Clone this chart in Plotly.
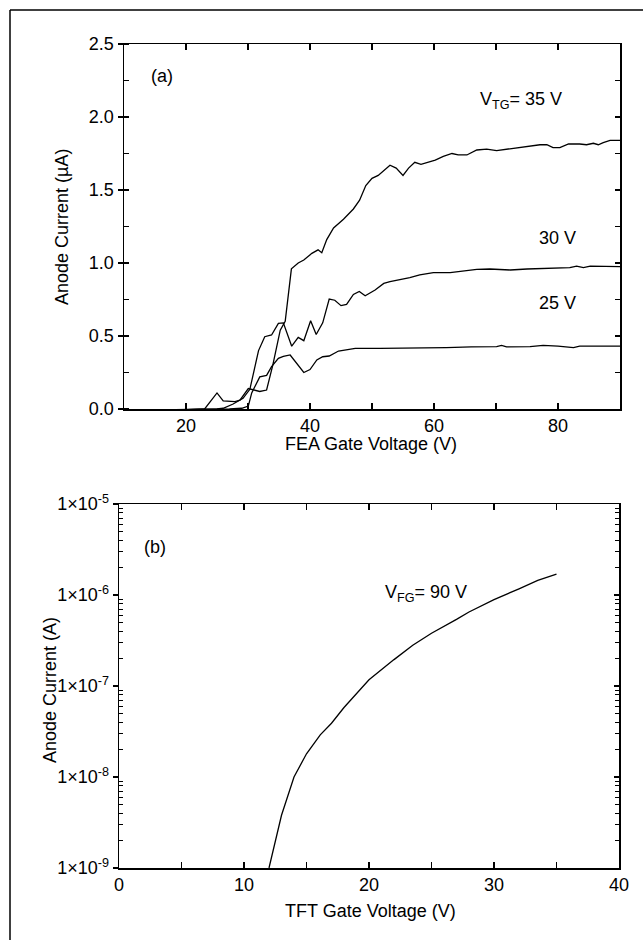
import plotly.graph_objects as go

# ---------------- data: panel (a) ----------------
fea_v_35 = [10, 15, 20, 23, 25, 26, 27.9, 28.7, 30.05, 31.9, 33, 34, 35.2, 36, 37, 38.1, 39,
            40.3, 41.3, 41.9, 42.7, 43.8, 45.4, 47, 48, 49, 50, 51, 52.9, 53.9, 55, 55.9,
            56.9, 57.9, 59, 60.2, 61.5, 62.9, 63.9, 65.3, 66.9, 68.5, 70.1, 71.7, 73.3, 75,
            77.1, 78.2, 79.2, 80.3, 81.7, 83.5, 84.6, 85.7, 86.5, 87.3, 88.4, 90]
cur_35 = [-0.01, -0.01, -0.005, 0.0, 0.11, 0.055, 0.05, 0.06, 0.14, 0.12, 0.13, 0.30, 0.54,
          0.60, 0.96, 1.00, 1.02, 1.066, 1.09, 1.07, 1.16, 1.24, 1.30, 1.37, 1.43, 1.53,
          1.58, 1.60, 1.67, 1.65, 1.60, 1.65, 1.69, 1.676, 1.69, 1.705, 1.73, 1.75, 1.74,
          1.74, 1.774, 1.78, 1.77, 1.78, 1.79, 1.80, 1.81, 1.81, 1.79, 1.79, 1.815, 1.815,
          1.81, 1.82, 1.81, 1.825, 1.84, 1.84]

fea_v_30 = [10, 20, 25, 26, 27.6, 29.2, 30.3, 31.7, 32.7, 33.8, 34.9, 35.7, 37.05, 38.1, 39,
            40.1, 41, 42.05, 43.1, 44, 45, 45.9, 47, 47.95, 48.9, 50.5, 51.9, 52.9, 54.5,
            56.1, 57.7, 59.9, 62.6, 64.7, 66.9, 69, 72.3, 75, 78.2, 81.9, 83, 84.1, 85.2,
            87.3, 90]
cur_30 = [-0.01, -0.005, 0.0, 0.005, 0.034, 0.073, 0.135, 0.40, 0.495, 0.507, 0.587, 0.59,
          0.43, 0.49, 0.468, 0.605, 0.51, 0.59, 0.753, 0.745, 0.708, 0.717, 0.785, 0.805,
          0.776, 0.815, 0.86, 0.872, 0.884, 0.90, 0.918, 0.934, 0.934, 0.947, 0.956, 0.959,
          0.952, 0.959, 0.963, 0.968, 0.979, 0.968, 0.979, 0.975, 0.975]

fea_v_25 = [10, 20, 27, 29, 30.05, 30.6, 31.9, 33, 33.8, 34.9, 35.7, 36.8, 37.95, 39, 40,
            41.1, 42.05, 43.1, 44.6, 45.9, 47.3, 51.3, 54, 56.1, 57.2, 59.4, 62, 66, 70.1,
            70.9, 71.7, 75.5, 77.6, 80, 82.5, 83.5, 90]
cur_25 = [-0.01, -0.005, 0.0, 0.005, 0.02, 0.11, 0.22, 0.23, 0.29, 0.347, 0.36, 0.37, 0.31,
          0.25, 0.27, 0.336, 0.358, 0.363, 0.397, 0.408, 0.415, 0.415, 0.415, 0.42, 0.415,
          0.415, 0.42, 0.425, 0.427, 0.436, 0.425, 0.427, 0.436, 0.43, 0.42, 0.43, 0.43]

# ---------------- data: panel (b) ----------------
tft_v = [12, 13, 14, 15, 16.1, 17, 18, 19, 20, 22, 23.5, 25, 26, 27, 28, 30, 32, 33.5, 35]
cur_b = [1.0e-9, 3.8e-9, 1.0e-8, 1.8e-8, 2.9e-8, 3.9e-8, 5.8e-8, 8.3e-8, 1.17e-7, 1.95e-7,
         2.8e-7, 3.8e-7, 4.5e-7, 5.4e-7, 6.5e-7, 8.9e-7, 1.17e-6, 1.45e-6, 1.7e-6]

log_tickvals = [1e-9, 1e-8, 1e-7, 1e-6, 1e-5]
log_ticktext = ["1×10<sup>-9</sup>", "1×10<sup>-8</sup>", "1×10<sup>-7</sup>",
                "1×10<sup>-6</sup>", "1×10<sup>-5</sup>"]

# ---------------- figure ----------------
W, H = 643, 940
FONT = "Arial, Liberation Sans, sans-serif"
FS = 18
line_style = dict(color="black", width=1.3)

fig = go.Figure()
for xs, ys in [(fea_v_35, cur_35), (fea_v_30, cur_30), (fea_v_25, cur_25)]:
    fig.add_trace(go.Scatter(x=xs, y=ys, mode="lines", line=line_style,
                             xaxis="x", yaxis="y", showlegend=False, hoverinfo="skip"))
fig.add_trace(go.Scatter(x=tft_v, y=cur_b, mode="lines", line=line_style,
                         xaxis="x2", yaxis="y2", showlegend=False, hoverinfo="skip"))
# empty traces so the right-side tick axes are drawn
fig.add_trace(go.Scatter(x=[None], y=[None], xaxis="x", yaxis="y3", showlegend=False,
                         hoverinfo="skip"))
fig.add_trace(go.Scatter(x=[None], y=[None], xaxis="x2", yaxis="y4", showlegend=False,
                         hoverinfo="skip"))

def px_x(p):
    return p / W

def px_y(p):
    return 1 - p / H

top_dom_x = [px_x(124), px_x(620)]
top_dom_y = [px_y(409), px_y(44)]
bot_dom_x = [px_x(119), px_x(619)]
bot_dom_y = [px_y(868), px_y(504)]

axis_common = dict(showgrid=False, zeroline=False, showline=True, linecolor="black",
                   linewidth=1.5, tickcolor="black", tickwidth=1.2, automargin=False,
                   tickfont=dict(family=FONT, size=FS, color="black"))

minor_log_vals = [k * 10.0 ** e for e in range(-9, -5) for k in range(2, 10)]

fig.update_layout(
    width=W, height=H, autosize=False,
    margin=dict(l=0, r=0, t=0, b=0, pad=0, autoexpand=False),
    showlegend=False,
    paper_bgcolor="white", plot_bgcolor="white",
    font=dict(family=FONT, size=FS, color="black"),
    xaxis=dict(**axis_common, domain=top_dom_x, anchor="y", range=[10, 90],
               tick0=0, dtick=20, ticks="inside", ticklen=6, mirror="allticks",
               minor=dict(dtick=10, tick0=0, ticks="inside", ticklen=6,
                          tickcolor="black", tickwidth=1.2)),
    yaxis=dict(**axis_common, domain=top_dom_y, anchor="x", range=[0, 2.5],
               tick0=0, dtick=0.5, tickformat=".1f", ticks="outside", ticklen=5,
               mirror=True,
               minor=dict(dtick=0.25, tick0=0, ticks="inside", ticklen=5,
                          tickcolor="black", tickwidth=1.2)),
    yaxis3=dict(showgrid=False, zeroline=False, overlaying="y", side="right",
                anchor="x", range=[0, 2.5], tick0=0, dtick=0.25, ticks="inside",
                ticklen=5, tickcolor="black", tickwidth=1.2, showticklabels=False,
                showline=False, automargin=False),
    xaxis2=dict(**axis_common, domain=bot_dom_x, anchor="y2", range=[0, 40],
                tick0=0, dtick=10, ticks="inside", ticklen=6, mirror="allticks",
                minor=dict(dtick=5, tick0=0, ticks="inside", ticklen=6,
                           tickcolor="black", tickwidth=1.2)),
    yaxis2=dict(**axis_common, domain=bot_dom_y, anchor="x2", type="log",
                range=[-9, -5], tickmode="array", tickvals=log_tickvals,
                ticktext=log_ticktext, ticks="outside", ticklen=5, mirror=True,
                minor=dict(tickmode="array", tickvals=minor_log_vals, ticks="inside",
                           ticklen=4, tickcolor="black", tickwidth=1.0)),
    yaxis4=dict(showgrid=False, zeroline=False, overlaying="y2", side="right",
                anchor="x2", type="log", range=[-9, -5], tickmode="array",
                tickvals=log_tickvals, ticks="inside", ticklen=5, tickcolor="black",
                tickwidth=1.2, showticklabels=False, showline=False, automargin=False,
                minor=dict(tickmode="array", tickvals=minor_log_vals, ticks="inside",
                           ticklen=4, tickcolor="black", tickwidth=1.0)),
)

ann_font = dict(family=FONT, size=FS, color="black")

def ann(text, x, y, xref, yref, xanchor="center", angle=0):
    return dict(text=text, x=x, y=y, xref=xref, yref=yref, xanchor=xanchor,
                yanchor="middle", textangle=angle, showarrow=False, font=ann_font)

annotations = [
    ann("(a)", 16.1, 2.28, "x", "y"),
    ann("V<sub>TG</sub>= 35 V", 67.1, 2.11, "x", "y", xanchor="left"),
    ann("30 V", 79.9, 1.17, "x", "y"),
    ann("25 V", 79.9, 0.726, "x", "y"),
    ann("(b)", 2.9, -5.47, "x2", "y2"),
    ann("V<sub>FG</sub>= 90 V", 21.1, -5.98, "x2", "y2", xanchor="left"),
    # axis titles
    ann("Anode Current (µA)", px_x(62), px_y(227), "paper", "paper", angle=-90),
    ann("FEA Gate Voltage (V)", px_x(371), px_y(444), "paper", "paper"),
    ann("Anode Current (A)", px_x(50), px_y(690), "paper", "paper", angle=-90),
    ann("TFT Gate Voltage (V)", px_x(370), px_y(911), "paper", "paper"),
]
fig.update_layout(annotations=annotations)

# outer frame (top and left edges visible in the reference)
fig.update_layout(shapes=[
    dict(type="line", xref="paper", yref="paper", x0=px_x(10), x1=1.0, y0=px_y(10),
         y1=px_y(10), line=dict(color="black", width=1.5)),
    dict(type="line", xref="paper", yref="paper", x0=px_x(10), x1=px_x(10), y0=px_y(10),
         y1=0.0, line=dict(color="black", width=1.5)),
])

fig.write_html("out.html",
               config={"displayModeBar": False, "staticPlot": True},
               post_script="document.body.style.margin='0';"
                           "document.body.style.overflow='hidden';")
